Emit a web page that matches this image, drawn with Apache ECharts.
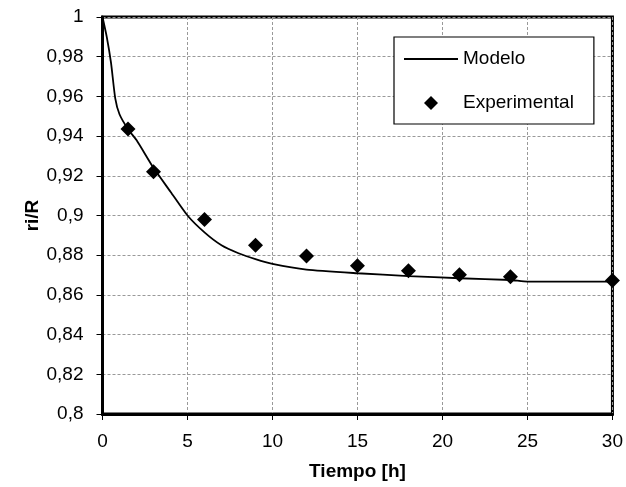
<!DOCTYPE html>
<html>
<head>
<meta charset="utf-8">
<script src="https://cdn.jsdelivr.net/npm/echarts@6/dist/echarts.min.js"></script>
<style>html,body{margin:0;padding:0;background:#fff}#c{width:626px;height:487px}</style>
</head>
<body>
<div id="c"></div>
<script>
// Model curve (t in hours, ri/R)
var modelT = [0, 0.25, 0.5, 0.75, 1, 1.5, 2, 3, 4, 5, 6, 7, 8, 9, 10, 12, 15, 18, 21, 24, 25, 30];
var modelY = [1.0, 0.99, 0.977, 0.959, 0.951, 0.9435, 0.938, 0.924, 0.912, 0.900, 0.8915, 0.885, 0.881, 0.878, 0.8756, 0.8727, 0.8709, 0.8695, 0.8684, 0.8675, 0.8667, 0.8667];
// Experimental points
var expT = [1.5, 3, 6, 9, 12, 15, 18, 21, 24, 30];
var expY = [0.9436, 0.922, 0.898, 0.885, 0.8796, 0.8747, 0.8722, 0.8702, 0.8692, 0.8672];
var seriesNames = ['Modelo', 'Experimental'];
var xTitle = 'Tiempo [h]';
var yTitle = 'ri/R';

var FONT = '"Liberation Sans", Arial, sans-serif';
function pairs(a, b) { return a.map(function (v, i) { return [v, b[i]]; }); }
function fmt(v) { return String(parseFloat(Number(v).toFixed(2))).replace('.', ','); }

var chart = echarts.init(document.getElementById('c'), null, {renderer: 'canvas'});
chart.setOption({
  animation: false,
  backgroundColor: '#fff',
  grid: {left: 102.5, right: 13.5, top: 17, bottom: 73, show: true, borderColor: '#000', borderWidth: 3, backgroundColor: 'transparent'},
  legend: {
    left: 394, top: 37, orient: 'vertical',
    backgroundColor: '#fff', borderColor: '#000', borderWidth: 1.2,
    padding: [12, 20, 11, 10], itemGap: 24, itemWidth: 54, itemHeight: 14,
    symbolKeepAspect: true,
    textStyle: {fontFamily: FONT, fontSize: 19, color: '#000', lineHeight: 20},
    data: [
      {name: seriesNames[0], icon: 'path://M0,0H54V1.8H0Z', itemStyle: {color: '#000', borderWidth: 0}},
      {name: seriesNames[1], icon: 'path://M6,0L12,6L6,12L0,6Z', itemStyle: {color: '#000', opacity: 1}}
    ]
  },
  xAxis: {
    type: 'value', min: 0, max: 30, interval: 5,
    name: xTitle, nameLocation: 'middle', nameGap: 48, nameMoveOverlap: false,
    nameTextStyle: {fontFamily: FONT, fontSize: 19, fontWeight: 'bold', color: '#000'},
    axisLine: {onZero: false, lineStyle: {color: '#000', width: 3}},
    axisTick: {show: true, length: 6, lineStyle: {color: '#000', width: 1}},
    axisLabel: {margin: 18, fontFamily: FONT, fontSize: 19, color: '#000', formatter: fmt},
    splitLine: {show: true, lineStyle: {color: '#999', width: 1, type: [3, 2]}}
  },
  yAxis: {
    type: 'value', min: 0.8, max: 1, interval: 0.02,
    name: yTitle, nameLocation: 'middle', nameGap: 60, nameMoveOverlap: false,
    nameTextStyle: {fontFamily: FONT, fontSize: 19, fontWeight: 'bold', color: '#000'},
    axisLine: {onZero: false, lineStyle: {color: '#000', width: 3}},
    axisTick: {show: true, length: 6, lineStyle: {color: '#000', width: 1}},
    axisLabel: {margin: 19, fontFamily: FONT, fontSize: 19, color: '#000', formatter: fmt},
    splitLine: {show: true, lineStyle: {color: '#999', width: 1, type: [3, 2]}}
  },
  series: [
    {name: seriesNames[0], type: 'line', data: pairs(modelT, modelY), symbol: 'none', smooth: 0.2,
     lineStyle: {color: '#000', width: 1.8}, itemStyle: {color: '#000'}, z: 3},
    {name: seriesNames[1], type: 'scatter', data: pairs(expT, expY), symbol: 'diamond', symbolSize: 15,
     clip: false, itemStyle: {color: '#000', opacity: 1}, z: 4}
  ]
});
</script>
</body>
</html>
